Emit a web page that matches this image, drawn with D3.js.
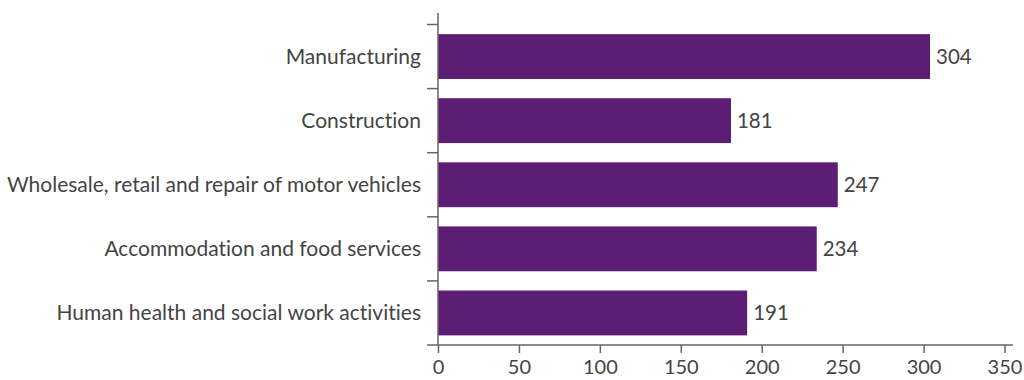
<!DOCTYPE html>
<html>
<head>
<meta charset="utf-8">
<script src="https://cdn.jsdelivr.net/npm/d3@7"></script>
<style>
  html, body { margin: 0; padding: 0; background: #fff; }
  svg { display: block; }
  text { font-family: Lato, "Open Sans", sans-serif; fill: #444; font-variant-ligatures: none; }
</style>
</head>
<body>
<svg id="chart" width="1024" height="380"></svg>
<script>
// Sectors and their counts
const sectors = [
  "Manufacturing",
  "Construction",
  "Wholesale, retail and repair of motor vehicles",
  "Accommodation and food services",
  "Human health and social work activities"
];
const counts = [304, 181, 247, 234, 191];
const xTicks = [0, 50, 100, 150, 200, 250, 300, 350];

const svg = d3.select("#chart");
const x0 = 438, x1 = 1004.5, yTop = 24.5, yBottom = 345;
const barColor = "#5c1e74";
const axisColor = "#666";
const labelSize = 21;
const valueSize = 20.5;

const x = d3.scaleLinear().domain([0, 350]).range([x0, x1]);
const y = d3.scaleBand().domain(sectors).range([yTop, yBottom]).paddingInner(0.3).paddingOuter(0.15);

// Bars
svg.append("g").selectAll("rect")
  .data(sectors)
  .join("rect")
  .attr("x", x(0))
  .attr("y", d => y(d))
  .attr("width", (d, i) => x(counts[i]) - x(0))
  .attr("height", y.bandwidth())
  .attr("fill", barColor);

// Value labels
svg.append("g").selectAll("text")
  .data(sectors)
  .join("text")
  .attr("x", (d, i) => x(counts[i]) + 6)
  .attr("y", d => y(d) + y.bandwidth() / 2)
  .attr("dy", "0.35em")
  .attr("font-size", valueSize)
  .text((d, i) => counts[i]);

// X axis
const xAxis = svg.append("g")
  .attr("transform", `translate(0,${yBottom})`)
  .call(d3.axisBottom(x).tickValues(xTicks).tickSize(8).tickPadding(7));
xAxis.select(".domain").remove();
xAxis.selectAll(".tick line").attr("stroke", axisColor).attr("stroke-width", 1.5);
xAxis.selectAll(".tick text").attr("font-size", 20).attr("fill", "#444")
  .style("font-family", "Lato, 'Open Sans', sans-serif");
svg.append("line")
  .attr("x1", x0 - 11).attr("x2", 1013)
  .attr("y1", yBottom).attr("y2", yBottom)
  .attr("stroke", axisColor).attr("stroke-width", 1.5);

// Y axis: line with ticks at category boundaries
svg.append("line")
  .attr("x1", x0).attr("x2", x0)
  .attr("y1", 13).attr("y2", yBottom)
  .attr("stroke", axisColor).attr("stroke-width", 1.5);
const step = y.step();
const boundaries = d3.range(sectors.length).map(i => y(sectors[i]) - y.paddingInner() * step / 2);
svg.append("g").selectAll("line")
  .data(boundaries)
  .join("line")
  .attr("x1", x0 - 11).attr("x2", x0)
  .attr("y1", d => d).attr("y2", d => d)
  .attr("stroke", axisColor).attr("stroke-width", 1.5);

// Category labels
svg.append("g").selectAll("text")
  .data(sectors)
  .join("text")
  .attr("x", x0 - 17)
  .attr("y", d => y(d) + y.bandwidth() / 2)
  .attr("dy", "0.35em")
  .attr("text-anchor", "end")
  .attr("font-size", labelSize)
  .text(d => d);
</script>
</body>
</html>
